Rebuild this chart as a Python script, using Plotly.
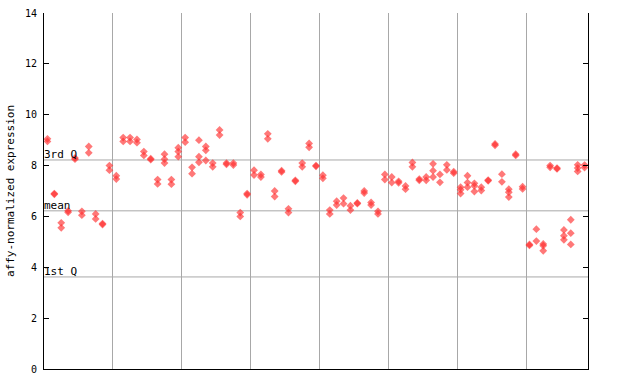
import plotly.graph_objects as go

# replicate values per sample (79 samples)
rep1 = [9.05, 6.9, 5.75, 6.22, 8.3, 6.2, 8.75, 6.1, 5.72, 8.0,
        7.6, 9.1, 9.1, 9.03, 8.55, 8.27, 7.45, 8.45, 7.45, 8.7,
        9.1, 7.93, 9.0, 8.75, 8.1, 9.4, 8.1, 8.1, 6.15, 6.9,
        7.82, 7.65, 9.25, 7.0, 7.8, 6.3, 7.42, 8.1, 8.87, 8.0,
        7.62, 6.25, 6.6, 6.72, 6.42, 6.53, 7.0, 6.55, 6.2, 7.65,
        7.55, 7.38, 7.2, 8.12, 7.47, 7.55, 8.07, 7.65, 8.03, 7.76,
        7.15, 7.6, 7.3, 7.15, 7.43, 8.85, 7.66, 7.07, 8.45, 7.17,
        4.9, 5.5, 4.92, 8.0, 7.9, 5.47, 5.87, 8.03, 8.02]
rep2 = [8.95, 6.87, 5.55, 6.16, 8.25, 6.05, 8.5, 5.9, 5.68, 7.82,
        7.47, 8.95, 8.95, 8.9, 8.4, 8.23, 7.28, 8.25, 7.27, 8.55,
        8.92, 7.68, 8.35, 8.6, 7.95, 9.2, 8.05, 8.02, 6.0, 6.85,
        7.63, 7.55, 9.05, 6.78, 7.75, 6.15, 7.38, 7.95, 8.72, 7.97,
        7.5, 6.1, 6.45, 6.5, 6.25, 6.5, 6.92, 6.45, 6.1, 7.45,
        7.33, 7.32, 7.07, 7.95, 7.42, 7.42, 7.8, 7.34, 7.83, 7.7,
        7.05, 7.33, 7.2, 7.02, 7.4, 8.8, 7.36, 6.95, 8.4, 7.08,
        4.86, 5.03, 4.85, 7.93, 7.87, 5.24, 5.34, 7.9, 7.92]
rep3 = [None, None, None, None, None, None, None, None, None, None,
        None, None, None, None, None, None, None, 8.1, None, 8.35,
        None, None, 8.13, 8.2, None, None, None, None, None, None,
        None, None, None, None, None, None, None, None, None, None,
        None, None, None, None, None, None, None, None, None, None,
        None, None, None, None, None, None, 7.55, None, None, None,
        6.9, 7.15, 6.98, None, None, None, None, 6.76, None, None,
        None, None, 4.65, None, None, 5.08, 4.9, 7.77, None]

quartile_labels = ["3rd Q", "mean", "1st Q"]
quartile_values = [8.22, 6.22, 3.62]
group_bounds = [10, 20, 30, 40, 50, 60, 70]
y_ticks = [0, 2, 4, 6, 8, 10, 12, 14]

xs, ys = [], []
for i in range(len(rep1)):
    for rep in (rep1, rep2, rep3):
        v = rep[i]
        if v is not None:
            xs.append(i + 0.5)
            ys.append(v)

fig = go.Figure()
fig.add_trace(go.Scatter(
    x=xs, y=ys, mode="markers",
    marker=dict(symbol="diamond", size=6, color="#ff3030", opacity=0.65,
                line=dict(width=0)),
    hoverinfo="y", showlegend=False,
))

for lab, val in zip(quartile_labels, quartile_values):
    fig.add_shape(type="line", xref="paper", yref="y", x0=0, x1=1, y0=val, y1=val,
                  line=dict(color="#a8a8a8", width=1), layer="below")
    fig.add_annotation(x=0, xref="paper", y=val, yref="y", text=lab,
                       showarrow=False, xanchor="left", yanchor="bottom",
                       xshift=-2, yshift=-3,
                       font=dict(family="DejaVu Sans Mono", size=11, color="black"))

mono = dict(family="DejaVu Sans Mono", size=10, color="black")

fig.update_layout(
    width=640, height=384,
    margin=dict(l=44, r=52, t=13, b=15, autoexpand=False),
    paper_bgcolor="white", plot_bgcolor="white",
    font=mono,
    xaxis=dict(range=[0, len(rep1)], tickvals=group_bounds, showticklabels=False,
               showgrid=True, gridcolor="#a8a8a8", gridwidth=1, ticks="",
               showline=True, linecolor="black", linewidth=1, zeroline=False,
               automargin=False, fixedrange=True),
    yaxis=dict(range=[0, 14], tickvals=y_ticks, ticktext=[str(t) for t in y_ticks],
               ticks="inside", ticklen=5, tickcolor="black", showgrid=False,
               showline=True, linecolor="black", linewidth=1, mirror="ticks",
               zeroline=False, tickfont=mono, automargin=False,
               ticklabelstandoff=4,
               title=dict(text="affy-normalized expression",
                          font=dict(family="DejaVu Sans Mono", size=11, color="black"),
                          standoff=8)),
)

fig.write_html("out.html")
